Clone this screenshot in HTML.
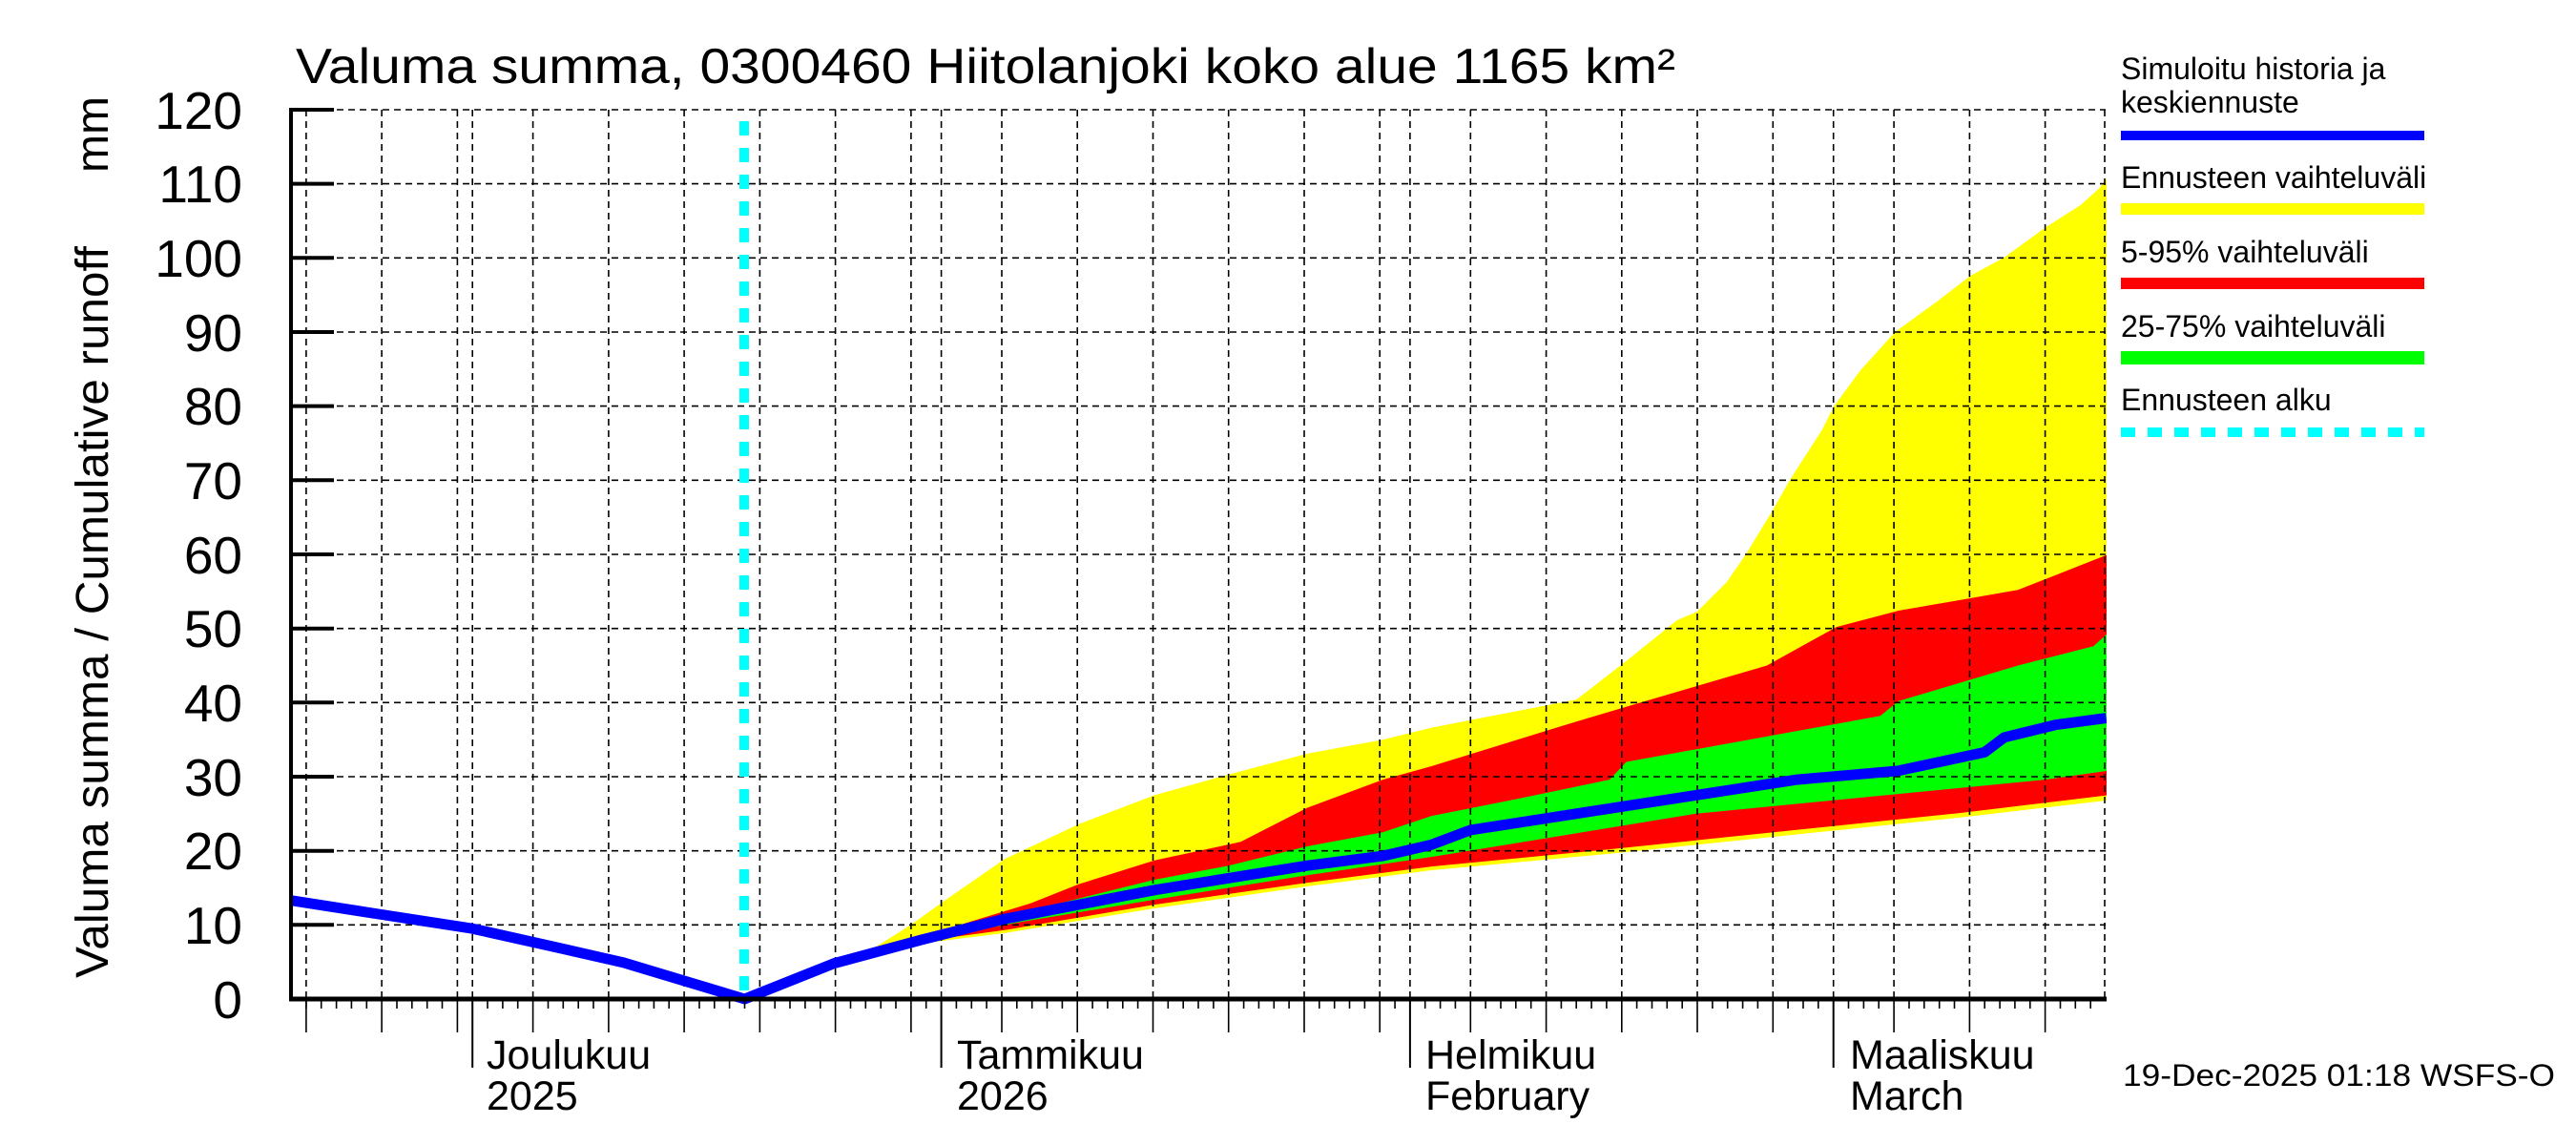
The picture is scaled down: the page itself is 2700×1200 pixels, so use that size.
<!DOCTYPE html>
<html><head><meta charset="utf-8"><style>html,body{margin:0;padding:0;background:#fff}svg{display:block}</style></head>
<body>
<svg width="2700" height="1200" viewBox="0 0 2700 1200" xmlns="http://www.w3.org/2000/svg" font-family="'Liberation Sans', sans-serif">
<rect width="2700" height="1200" fill="#fff"/>
<g transform="translate(305,0) scale(1.0019,1) translate(-305,0)">
<polygon fill="#ffff00" points="779.6,1047 842.9,1023.7 912.5,995 953.6,969.3 986.8,945.3 1051.7,900.2 1129.2,863.7 1208.3,833.4 1285.8,811.7 1368.1,789.9 1447.2,775.2 1497.8,762.7 1649.7,733.2 1701.9,692.8 1755,650 1776,641 1807,610 1827,581 1855,535 1873,503 1907,450 1919,426 1947,388 1983,348 2027,316 2062,289 2097,270 2141,238 2177,215 2197,197 2206,184.9 2206,838.8 2051.5,856.7 1684.5,894.8 1499.4,911.9 1368.1,929 1206.7,952.2 1051.7,977.9 964.7,988.7 874.5,1011.3 779.6,1047"/>
<polygon fill="#ff0000" points="779.6,1047 874.5,1008.2 964.7,981.8 986.8,974.8 1078.6,946.8 1129.2,926.6 1208.3,901.8 1298.5,882.3 1368.1,846.6 1447.2,817.1 1497.8,803.1 1638.6,759.6 1711.4,737.9 1849,697.5 1921.8,657.1 1986.7,640 2111.6,618.3 2206,581 2206,833.4 2051.5,852 1684.5,890.1 1499.4,908 1368.1,925.1 1206.7,948.4 1051.7,974.8 964.7,986.4 874.5,1009.7 779.6,1047"/>
<polygon fill="#00ff00" points="779.6,1047 874.5,1008.9 964.7,983.3 1064.4,957.7 1208.3,922 1285.8,907.2 1368.1,887 1447.2,872.2 1497.8,855.2 1588,837.3 1684.5,817.1 1701.9,798.5 1967.7,750.3 1986.7,734.8 2111.6,697.5 2190.7,677.3 2206,663.3 2206,807.8 2140,817.1 1774.7,852.8 1499.4,897.9 1368.1,917.3 1208.3,942.9 1064.4,967 964.7,985.6 874.5,1010.5 779.6,1047"/>
</g>
<g stroke="#000" stroke-width="1.6" stroke-dasharray="7,5" fill="none">
<path d="M305,969.3H2207M305,891.7H2207M305,814H2207M305,736.3H2207M305,658.7H2207M305,581H2207M305,503.3H2207M305,425.6H2207M305,348H2207M305,270.3H2207M305,192.6H2207M305,115H2207"/>
<path d="M320.9,115V1047M400.1,115V1047M479.4,115V1047M495.2,115V1047M558.6,115V1047M637.9,115V1047M717.1,115V1047M796.4,115V1047M875.6,115V1047M954.9,115V1047M986.6,115V1047M1050,115V1047M1129.2,115V1047M1208.5,115V1047M1287.7,115V1047M1367,115V1047M1446.2,115V1047M1477.9,115V1047M1541.3,115V1047M1620.6,115V1047M1699.8,115V1047M1779,115V1047M1858.3,115V1047M1921.7,115V1047M1985.1,115V1047M2064.4,115V1047M2143.6,115V1047M2206,115V1047"/>
</g>
<line x1="780" y1="127" x2="780" y2="1047" stroke="#00ffff" stroke-width="10" stroke-dasharray="15,13"/>
<g transform="translate(305,0) scale(1.0019,1) translate(-305,0)" fill="none" stroke="#0000ff" stroke-width="11" stroke-linejoin="round">
<polyline points="305,943.7 399.9,958.5 494.8,973.2 585,993.4 653,1008.9 779.6,1047 873,1009.7 964.7,984.9 1051.7,963.1 1208.3,932.8 1368.1,907.2 1447.2,897.1 1497.8,885.4 1539,869.9 1774.7,833.4 1880.7,817.1 1986.7,807.8 2076.8,788.4 2097.4,772.8 2151.2,759.6 2204,752.6"/>
</g>
<rect x="2208" y="100" width="20" height="960" fill="#fff"/>
<g stroke="#000" fill="none">
<line x1="305" y1="113" x2="305" y2="1049" stroke-width="4"/>
<path stroke-width="4" d="M305,1047h45M305,969.3h45M305,891.7h45M305,814h45M305,736.3h45M305,658.7h45M305,581h45M305,503.3h45M305,425.6h45M305,348h45M305,270.3h45M305,192.6h45M305,115h45"/>
<line x1="303" y1="1047" x2="2208" y2="1047" stroke-width="5"/>
<path stroke-width="1.6" d="M320.9,1047v10M336.7,1047v10M352.6,1047v10M368.4,1047v10M384.3,1047v10M416,1047v10M431.8,1047v10M447.7,1047v10M463.5,1047v10M511,1047v10M526.9,1047v10M542.7,1047v10M574.5,1047v10M590.3,1047v10M606.2,1047v10M622,1047v10M653.7,1047v10M669.6,1047v10M685.4,1047v10M701.2,1047v10M733,1047v10M748.8,1047v10M764.6,1047v10M780.5,1047v10M812.2,1047v10M828,1047v10M843.9,1047v10M859.8,1047v10M891.5,1047v10M907.3,1047v10M923.2,1047v10M939,1047v10M970.7,1047v10M1002.4,1047v10M1018.3,1047v10M1034.1,1047v10M1065.8,1047v10M1081.7,1047v10M1097.5,1047v10M1113.4,1047v10M1145.1,1047v10M1160.9,1047v10M1176.8,1047v10M1192.6,1047v10M1224.3,1047v10M1240.2,1047v10M1256,1047v10M1271.9,1047v10M1303.6,1047v10M1319.4,1047v10M1335.3,1047v10M1351.1,1047v10M1382.8,1047v10M1398.7,1047v10M1414.5,1047v10M1430.4,1047v10M1462.1,1047v10M1493.7,1047v10M1509.6,1047v10M1525.4,1047v10M1557.1,1047v10M1573,1047v10M1588.8,1047v10M1604.7,1047v10M1636.4,1047v10M1652.2,1047v10M1668.1,1047v10M1683.9,1047v10M1715.6,1047v10M1731.5,1047v10M1747.3,1047v10M1763.2,1047v10M1794.9,1047v10M1810.7,1047v10M1826.6,1047v10M1842.4,1047v10M1874.1,1047v10M1890,1047v10M1905.8,1047v10M1937.5,1047v10M1953.4,1047v10M1969.2,1047v10M2001,1047v10M2016.8,1047v10M2032.7,1047v10M2048.5,1047v10M2080.2,1047v10M2096.1,1047v10M2111.9,1047v10M2127.8,1047v10M2159.5,1047v10M2175.3,1047v10M2191.2,1047v10"/>
<path stroke-width="1.6" d="M320.9,1047v35M400.1,1047v35M479.4,1047v35M558.6,1047v35M637.9,1047v35M717.1,1047v35M796.4,1047v35M875.6,1047v35M954.9,1047v35M1050,1047v35M1129.2,1047v35M1208.5,1047v35M1287.7,1047v35M1367,1047v35M1446.2,1047v35M1541.3,1047v35M1620.6,1047v35M1699.8,1047v35M1779,1047v35M1858.3,1047v35M1985.1,1047v35M2064.4,1047v35M2143.6,1047v35"/>
<path stroke-width="2" d="M495.2,1047v72M986.6,1047v72M1477.9,1047v72M1921.7,1047v72"/>
</g>
<text x="310" y="87" font-size="52" textLength="1446" lengthAdjust="spacingAndGlyphs">Valuma summa, 0300460 Hiitolanjoki koko alue 1165 km²</text>
<g font-size="55" text-anchor="end">
<text x="254" y="1067">0</text><text x="254" y="989">10</text><text x="254" y="911">20</text><text x="254" y="834">30</text><text x="254" y="756">40</text><text x="254" y="678">50</text><text x="254" y="601">60</text><text x="254" y="523">70</text><text x="254" y="445">80</text><text x="254" y="368">90</text><text x="254" y="290">100</text><text x="254" y="212">110</text><text x="254" y="135">120</text>
</g>
<text transform="translate(113,1025) rotate(-90)" font-size="48" textLength="767" lengthAdjust="spacingAndGlyphs">Valuma summa / Cumulative runoff</text>
<text transform="translate(113,181) rotate(-90)" font-size="48">mm</text>
<g font-size="43">
<text x="510" y="1120">Joulukuu</text><text x="510" y="1163">2025</text>
<text x="1003" y="1120">Tammikuu</text><text x="1003" y="1163">2026</text>
<text x="1494" y="1120">Helmikuu</text><text x="1494" y="1163">February</text>
<text x="1939" y="1120">Maaliskuu</text><text x="1939" y="1163">March</text>
</g>
<g font-size="32">
<text x="2223" y="83">Simuloitu historia ja</text>
<text x="2223" y="118">keskiennuste</text>
<text x="2223" y="197">Ennusteen vaihteluväli</text>
<text x="2223" y="275">5-95% vaihteluväli</text>
<text x="2223" y="353">25-75% vaihteluväli</text>
<text x="2223" y="430">Ennusteen alku</text>
<text x="2225" y="1138" textLength="453" lengthAdjust="spacingAndGlyphs">19-Dec-2025 01:18 WSFS-O</text>
</g>
<rect x="2223" y="137" width="318" height="10" fill="#0000ff"/>
<rect x="2223" y="213" width="318" height="12" fill="#ffff00"/>
<rect x="2223" y="291" width="318" height="12" fill="#ff0000"/>
<rect x="2223" y="368" width="318" height="14" fill="#00ff00"/>
<line x1="2223" y1="453" x2="2541" y2="453" stroke="#00ffff" stroke-width="10" stroke-dasharray="15,13"/>
</svg>
</body></html>
